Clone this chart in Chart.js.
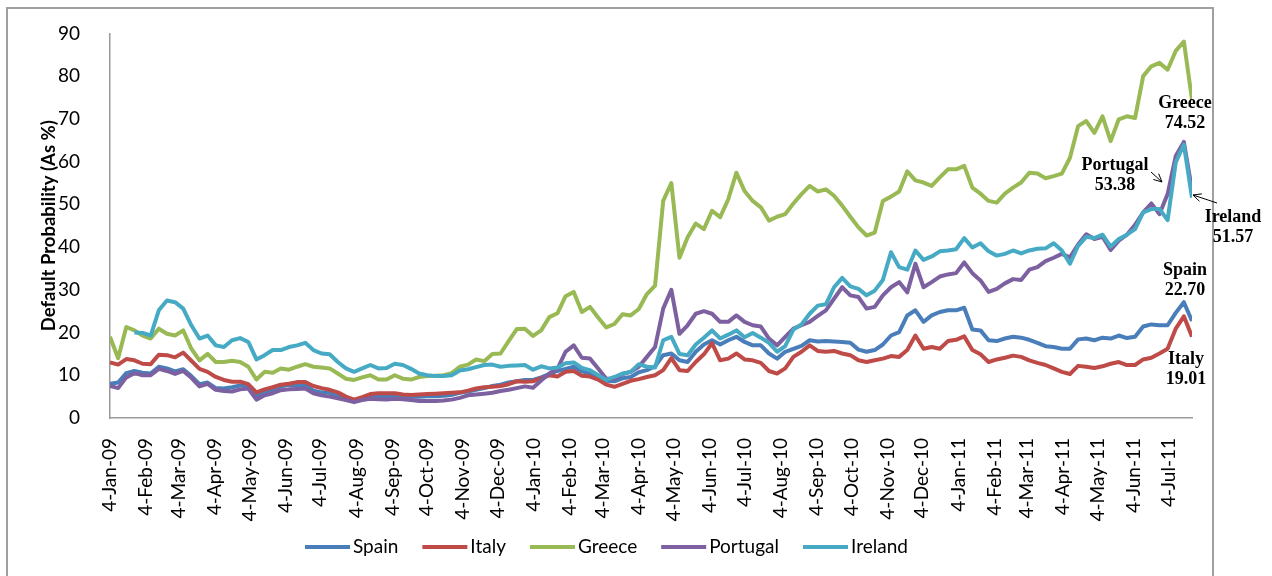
<!DOCTYPE html>
<html>
<head>
<meta charset="utf-8">
<script src="https://cdn.jsdelivr.net/npm/chart.js@4.4.1/dist/chart.umd.min.js"></script>
<style>
    html, body { margin: 0; padding: 0; background: #fff; }
    #wrap { width: 1272px; height: 576px; }
</style>
</head>
<body>
<div id="wrap"><canvas id="cdsChart" width="1272" height="576"></canvas></div>
<script>
// weekly readings starting 4-Jan-09
const weekStep = 7;
const seriesNames = ["Spain", "Italy", "Greece", "Portugal", "Ireland"];
const seriesColors = ["#4a7ebb", "#be4b48", "#98b954", "#7d60a0", "#46aac5"];
const yTitle = "Default Probability (As %)";

const tickLabels = [
    "4-Jan-09", "4-Feb-09", "4-Mar-09", "4-Apr-09", "4-May-09", "4-Jun-09",
    "4-Jul-09", "4-Aug-09", "4-Sep-09", "4-Oct-09", "4-Nov-09", "4-Dec-09",
    "4-Jan-10", "4-Feb-10", "4-Mar-10", "4-Apr-10", "4-May-10", "4-Jun-10",
    "4-Jul-10", "4-Aug-10", "4-Sep-10", "4-Oct-10", "4-Nov-10", "4-Dec-10",
    "4-Jan-11", "4-Feb-11", "4-Mar-11", "4-Apr-11", "4-May-11", "4-Jun-11",
    "4-Jul-11",
];

const spain = [
    8.0, 8.3, 10.5, 11.0, 10.6, 10.4, 12.0, 11.6, 10.9, 11.4,
    9.8, 7.9, 8.3, 7.0, 6.9, 7.2, 7.6, 7.6, 5.0, 6.0,
    6.4, 7.4, 7.7, 7.6, 7.7, 6.4, 6.0, 5.9, 5.1, 4.5,
    3.9, 4.6, 5.0, 5.0, 5.0, 5.2, 5.0, 5.0, 5.0, 5.1,
    5.1, 5.2, 5.4, 5.9, 6.2, 6.6, 7.0, 7.5, 7.8, 8.3,
    8.6, 8.9, 8.9, 9.5, 10.3, 11.0, 11.5, 12.0, 10.9, 10.4,
    9.3, 8.7, 8.6, 9.3, 9.6, 10.7, 11.2, 12.1, 14.7, 15.1,
    13.5, 13.1, 15.5, 17.2, 18.2, 17.2, 18.2, 19.0, 17.8, 17.0,
    17.0, 15.1, 13.9, 15.5, 16.2, 16.9, 18.2, 17.9, 18.0, 17.9,
    17.8, 17.6, 16.0, 15.5, 15.9, 17.2, 19.3, 20.1, 24.0, 25.2,
    22.5, 24.0, 24.8, 25.2, 25.2, 25.8, 20.7, 20.5, 18.2, 18.0,
    18.6, 19.0, 18.8, 18.3, 17.6, 16.8, 16.6, 16.2, 16.2, 18.4,
    18.6, 18.2, 18.8, 18.6, 19.3, 18.7, 19.0, 21.4, 21.9, 21.7,
    21.7, 24.6, 27.1, 22.70,
];

const italy = [
    13.0, 12.5, 13.8, 13.5, 12.7, 12.6, 14.8, 14.7, 14.2, 15.3,
    13.4, 11.5, 10.8, 9.6, 8.9, 8.5, 8.5, 7.9, 6.0, 6.7,
    7.2, 7.8, 8.0, 8.4, 8.4, 7.5, 7.0, 6.6, 6.0, 5.0,
    4.3, 4.9, 5.6, 5.8, 5.8, 5.8, 5.5, 5.4, 5.5, 5.6,
    5.7, 5.8, 5.9, 6.0, 6.4, 6.9, 7.2, 7.3, 7.5, 7.9,
    8.6, 8.5, 8.6, 9.3, 10.0, 9.7, 10.8, 11.0, 9.9, 9.7,
    9.0, 7.8, 7.3, 8.0, 8.7, 9.1, 9.6, 10.0, 11.2, 14.0,
    11.2, 11.0, 13.1, 14.9, 17.5, 13.5, 13.9, 15.1, 13.7, 13.5,
    12.9, 11.0, 10.4, 11.6, 14.3, 15.5, 17.0, 15.7, 15.5, 15.7,
    15.1, 14.7, 13.5, 13.1, 13.5, 13.9, 14.5, 14.3, 15.9, 19.3,
    16.2, 16.6, 16.2, 18.0, 18.3, 19.1, 15.9, 14.9, 13.1, 13.7,
    14.1, 14.6, 14.3, 13.5, 12.9, 12.4, 11.6, 10.8, 10.3, 12.2,
    12.0, 11.7, 12.1, 12.7, 13.1, 12.4, 12.4, 13.7, 14.1, 15.1,
    16.2, 20.9, 23.8, 19.01,
];

const greece = [
    19.0, 14.0, 21.3, 20.5, 19.3, 18.6, 20.9, 19.7, 19.3, 20.5,
    16.2, 13.5, 15.0, 13.1, 13.1, 13.4, 13.1, 12.0, 9.0, 10.8,
    10.6, 11.6, 11.3, 12.0, 12.6, 12.0, 11.8, 11.6, 10.4, 9.2,
    8.9, 9.5, 10.0, 9.0, 9.0, 10.0, 9.2, 9.0, 9.6, 9.8,
    9.9, 10.0, 10.5, 12.0, 12.5, 13.7, 13.3, 15.0, 15.1, 18.0,
    20.8, 20.9, 19.2, 20.5, 23.6, 24.5, 28.5, 29.5, 24.8, 26.0,
    23.5, 21.2, 22.0, 24.3, 24.0, 25.5, 29.0, 31.0, 50.8, 55.0,
    37.5, 42.3, 45.5, 44.2, 48.5, 47.0, 51.2, 57.4, 53.1, 50.8,
    49.3, 46.2, 47.1, 47.7, 50.2, 52.4, 54.3, 53.0, 53.5, 52.0,
    49.7, 47.1, 44.6, 42.7, 43.4, 50.8, 51.8, 53.0, 57.7, 55.6,
    55.1, 54.3, 56.3, 58.2, 58.2, 59.0, 53.9, 52.5, 50.8, 50.4,
    52.5, 53.9, 55.1, 57.4, 57.2, 56.1, 56.6, 57.2, 60.9, 68.3,
    69.5, 66.7, 70.6, 64.8, 69.9, 70.6, 70.2, 80.0, 82.3, 83.1,
    81.5, 85.9, 88.1, 74.52,
];

const portugal = [
    7.5, 7.0, 9.5, 10.5, 10.0, 10.0, 11.5, 11.0, 10.3, 11.0,
    9.4, 7.4, 8.0, 6.6, 6.3, 6.2, 6.7, 6.9, 4.3, 5.3,
    5.8, 6.5, 6.7, 6.8, 6.9, 5.8, 5.3, 5.0, 4.6, 4.2,
    3.7, 4.2, 4.5, 4.4, 4.3, 4.5, 4.4, 4.2, 4.0, 4.0,
    4.0, 4.1, 4.3, 4.7, 5.3, 5.5, 5.7, 5.9, 6.3, 6.6,
    7.0, 7.4, 7.1, 8.8, 10.4, 11.5, 15.5, 17.0, 14.1, 13.9,
    11.6, 9.2, 9.2, 10.3, 10.8, 12.0, 14.3, 16.6, 25.6, 30.0,
    19.7, 21.7, 24.4, 25.0, 24.4, 22.5, 22.5, 24.0, 22.5, 21.7,
    21.4, 18.6, 17.0, 19.0, 20.9, 21.7, 22.5, 23.9, 25.2, 27.9,
    30.6, 28.7, 28.3, 25.6, 26.0, 28.7, 30.6, 31.8, 29.4, 36.1,
    30.6, 31.8, 33.1, 33.6, 33.9, 36.4, 33.9, 32.2, 29.5, 30.2,
    31.5, 32.5, 32.3, 34.7, 35.3, 36.7, 37.5, 38.4, 37.6, 40.6,
    43.0, 41.9, 42.4, 39.3, 41.5, 42.9, 45.2, 48.1, 50.2, 47.7,
    52.4, 61.3, 64.6, 53.38,
];

const ireland = [
    null, null, null, 20.0, 19.9, 19.3, 25.2, 27.5, 27.1, 25.6,
    21.7, 18.6, 19.3, 17.0, 16.6, 18.2, 18.7, 17.8, 13.7, 14.7,
    15.9, 15.9, 16.6, 17.0, 17.6, 15.9, 15.1, 14.9, 13.1, 11.6,
    10.8, 11.6, 12.4, 11.6, 11.7, 12.7, 12.4, 11.5, 10.4, 10.0,
    9.8, 9.8, 10.0, 11.1, 11.4, 11.9, 12.4, 12.5, 12.0, 12.2,
    12.3, 12.4, 11.3, 12.1, 11.6, 11.8, 12.8, 13.0, 11.7, 11.2,
    10.0, 8.9, 9.6, 10.4, 10.8, 12.6, 12.0, 11.8, 18.2, 19.0,
    15.0, 14.7, 17.2, 18.8, 20.5, 18.6, 19.5, 20.5, 18.9, 19.9,
    18.8, 17.6, 15.5, 16.8, 20.7, 21.9, 24.4, 26.3, 26.6, 30.6,
    32.8, 30.8, 30.2, 28.7, 29.8, 32.3, 38.8, 35.3, 34.7, 39.2,
    37.0, 37.8, 39.0, 39.2, 39.5, 42.1, 39.9, 40.9, 39.0, 38.0,
    38.4, 39.2, 38.5, 39.2, 39.6, 39.7, 40.9, 39.2, 36.1, 40.3,
    42.4, 42.1, 42.9, 40.1, 41.9, 42.9, 44.2, 48.1, 48.9, 48.9,
    46.3, 59.8, 64.0, 51.57,
];

const seriesValues = [spain, italy, greece, portugal, ireland];

// label offsets from each series' last point: [dx, dy of first line]
const endLabelOffsets = [
    [-7, -51],
    [-6, 23],
    [-7, 4],
    [-77, -25],
    [41, 20],
];

const monthIndex = {
    Jan: 0, Feb: 1, Mar: 2, Apr: 3, May: 4, Jun: 5,
    Jul: 6, Aug: 7, Sep: 8, Oct: 9, Nov: 10, Dec: 11,
};

function labelToDay(label) {
    const [day, mon, yy] = label.split("-");
    const t = Date.UTC(2000 + Number(yy), monthIndex[mon], Number(day));
    return Math.round((t - Date.UTC(2009, 0, 4)) / 86400000);
}

function toPoints(values) {
    return values.map((v, i) => ({ x: i * weekStep, y: v }));
}

const tickDays = tickLabels.map(labelToDay);
const lastDay = (greece.length - 1) * weekStep;
const sansFont = "Lato, 'Open Sans', sans-serif";

function drawArrow(ctx, x1, y1, x2, y2) {
    const angle = Math.atan2(y2 - y1, x2 - x1);
    const head = 9;
    ctx.beginPath();
    ctx.moveTo(x1, y1);
    ctx.lineTo(x2, y2);
    ctx.moveTo(x2 - head * Math.cos(angle - 0.45), y2 - head * Math.sin(angle - 0.45));
    ctx.lineTo(x2, y2);
    ctx.lineTo(x2 - head * Math.cos(angle + 0.45), y2 - head * Math.sin(angle + 0.45));
    ctx.stroke();
}

function drawLegend(ctx) {
    ctx.save();
    ctx.font = "19px " + sansFont;
    ctx.textBaseline = "middle";
    ctx.fillStyle = "#000";
    const lineLen = 45;
    const y = 547;
    let x = 305;
    seriesNames.forEach((name, i) => {
        ctx.strokeStyle = seriesColors[i];
        ctx.lineWidth = 4;
        ctx.beginPath();
        ctx.moveTo(x, y);
        ctx.lineTo(x + lineLen, y);
        ctx.stroke();
        ctx.fillText(name, x + lineLen + 3, y);
        x += lineLen + 3 + ctx.measureText(name).width + 24;
    });
    ctx.restore();
}

function drawYTitle(chart) {
    const ctx = chart.ctx;
    const area = chart.chartArea;
    ctx.save();
    ctx.translate(55, (area.top + area.bottom) / 2);
    ctx.rotate(-Math.PI / 2);
    ctx.font = "bold 18.5px " + sansFont;
    ctx.textAlign = "center";
    ctx.textBaseline = "alphabetic";
    ctx.fillStyle = "#000";
    ctx.fillText(yTitle, 0, 0);
    ctx.restore();
}

const decorations = {
    id: "decorations",
    beforeDraw(chart) {
        const ctx = chart.ctx;
        ctx.save();
        ctx.fillStyle = "#fff";
        ctx.fillRect(0, 0, chart.width, chart.height);
        ctx.strokeStyle = "#a0a0a0";
        ctx.lineWidth = 2;
        ctx.strokeRect(7, 8, 1206, 620);
        ctx.restore();
    },
    afterDraw(chart) {
        const ctx = chart.ctx;
        const xs = chart.scales.x;
        const ys = chart.scales.y;
        drawYTitle(chart);
        ctx.save();
        ctx.font = "bold 18px 'Liberation Serif', 'Times New Roman', serif";
        ctx.textAlign = "center";
        ctx.textBaseline = "middle";
        ctx.fillStyle = "#000";
        seriesValues.forEach((values, i) => {
            const last = values[values.length - 1];
            const px = xs.getPixelForValue(lastDay) + endLabelOffsets[i][0];
            const py = ys.getPixelForValue(last) + endLabelOffsets[i][1];
            ctx.fillText(seriesNames[i], px, py);
            ctx.fillText(last.toFixed(2), px, py + 20);
        });
        ctx.strokeStyle = "#000";
        ctx.lineWidth = 1;
        drawArrow(ctx, 1151, 172, 1162, 182);
        drawArrow(ctx, 1217, 203, 1193, 195);
        ctx.restore();
        drawLegend(ctx);
    },
};

const datasets = seriesNames.map((name, i) => ({
    label: name,
    data: toPoints(seriesValues[i]),
    borderColor: seriesColors[i],
    backgroundColor: seriesColors[i],
    borderWidth: 4,
    pointRadius: 0,
    tension: 0,
    borderJoinStyle: "round",
    order: seriesNames.length - i,
}));

new Chart(document.getElementById("cdsChart"), {
    type: "line",
    data: { datasets },
    plugins: [decorations],
    options: {
        responsive: false,
        animation: false,
        devicePixelRatio: 1,
        layout: { padding: { left: 0, right: 80, top: 32, bottom: 0 } },
        plugins: {
            legend: { display: false },
            tooltip: { enabled: false },
        },
        scales: {
            x: {
                type: "linear",
                min: 0,
                max: lastDay,
                afterBuildTicks: (scale) => {
                    scale.ticks = tickDays.map((d) => ({ value: d }));
                },
                afterFit: (scale) => {
                    scale.height = 158;
                },
                ticks: {
                    autoSkip: false,
                    minRotation: 90,
                    maxRotation: 90,
                    padding: 12,
                    color: "#000",
                    font: { family: sansFont, size: 19 },
                    callback: (value, index) => tickLabels[index],
                },
                grid: { display: false },
                border: { display: true, color: "#9a9a9a", width: 1.5 },
            },
            y: {
                min: 0,
                max: 90,
                afterFit: (scale) => {
                    scale.width = 110;
                },
                ticks: {
                    stepSize: 10,
                    padding: 22,
                    color: "#000",
                    font: { family: sansFont, size: 19 },
                },
                grid: { display: false },
                border: { display: true, color: "#9a9a9a", width: 1.5 },
            },
        },
    },
});
</script>
</body>
</html>
